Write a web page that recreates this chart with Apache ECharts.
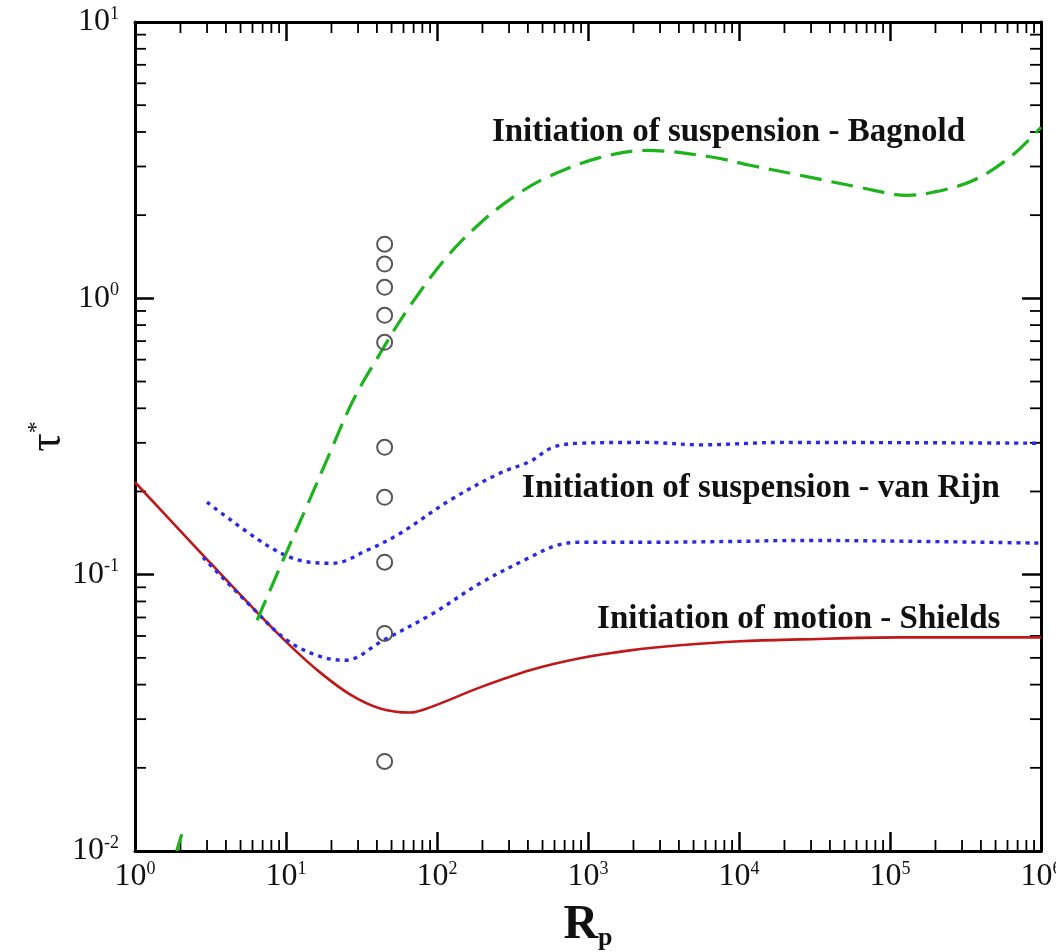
<!DOCTYPE html>
<html>
<head>
<meta charset="utf-8">
<script src="https://cdn.jsdelivr.net/npm/echarts@6/dist/echarts.min.js"></script>
<style>
  html, body { margin: 0; padding: 0; background: #fff; }
  #chart { width: 1056px; height: 952px; }
</style>
</head>
<body>
<div id="chart"></div>
<script>
// Axis ranges (log scales)
const X_MIN = 1, X_MAX = 1e6;
const Y_MIN = 0.01, Y_MAX = 10;

// Initiation of motion - Shields
const shieldsRp  = [1, 2.69, 6.53, 10.6, 16.8, 26.5, 42, 66.2, 89.9, 193, 413, 885, 1897, 4064, 10160, 25350, 116000, 1000000];
const shieldsTau = [0.216, 0.121, 0.0724, 0.0555, 0.0443, 0.0369, 0.0328, 0.0317, 0.0331, 0.0391, 0.0451, 0.0498, 0.0532, 0.0555, 0.0574, 0.0583, 0.0593, 0.0593];

// Initiation of suspension - van Rijn (upper and lower bounds)
const vanRijnUpperRp  = [3.0, 7.48, 12.4, 20.5, 34.4, 56.9, 122, 261, 413, 586, 885, 2460, 5520, 19550, 1000000];
const vanRijnUpperTau = [0.183, 0.1277, 0.1126, 0.110, 0.1225, 0.141, 0.186, 0.233, 0.257, 0.289, 0.299, 0.301, 0.295, 0.301, 0.299];
const vanRijnLowerRp  = [2.82, 5.78, 10.2, 16.8, 24.6, 43.9, 94.1, 193, 413, 623, 885, 2460, 10000, 25350, 1000000];
const vanRijnLowerTau = [0.1155, 0.0774, 0.0578, 0.0506, 0.0490, 0.0578, 0.0724, 0.0931, 0.1156, 0.1277, 0.131, 0.131, 0.132, 0.133, 0.130];

// Initiation of suspension - Bagnold
const bagnoldRp  = [6.43, 9.55, 13.8, 19.6, 27.8, 42, 63.3, 116, 193, 318, 535, 1148, 2460, 6730, 11830, 25350, 63300, 130000, 193000, 355000, 623000, 1000000];
const bagnoldTau = [0.0684, 0.1127, 0.178, 0.277, 0.427, 0.632, 0.905, 1.41, 1.87, 2.32, 2.74, 3.21, 3.43, 3.24, 3.03, 2.79, 2.52, 2.36, 2.42, 2.67, 3.24, 4.16];
const bagnoldLowRp  = [1.89, 2.04];
const bagnoldLowTau = [0.0100, 0.0115];

// Measured points
const pointsRp  = [45, 45, 45, 45, 45, 45, 45, 45, 45, 45];
const pointsTau = [1.57, 1.33, 1.096, 0.868, 0.693, 0.289, 0.1905, 0.111, 0.0613, 0.0211];

// Curve captions
const captionText = ['Initiation of suspension - Bagnold', 'Initiation of suspension - van Rijn', 'Initiation of motion - Shields'];
const captionRp   = [231, 366, 1148];
const captionTau  = [3.99, 0.205, 0.0689];

const zip = (a, b) => a.map((v, i) => [v, b[i]]);

const SERIF = "'Liberation Serif', 'Times New Roman', serif";
const INK = '#111';
const MINOR_LEN = 11;

// minor tick positions 2..9 within every decade
const minorX = [];
for (let k = 0; k < 6; k++) for (let m = 2; m <= 9; m++) minorX.push(m * Math.pow(10, k));
const minorY = [];
for (let k = -2; k < 1; k++) for (let m = 2; m <= 9; m++) minorY.push(+(m * Math.pow(10, k)).toPrecision(3));

const powRich = {
  b: { fontFamily: SERIF, fontSize: 32, color: INK, lineHeight: 34 },
  s: { fontFamily: SERIF, fontSize: 18, color: INK, verticalAlign: 'top', lineHeight: 18 }
};
const powLabel = v => '{b|10}{s|' + Math.round(Math.log10(v)) + '}';

const frameLine = { show: true, onZero: false, lineStyle: { color: '#000', width: 3 } };
const majorTick = { show: true, inside: true, length: 19, lineStyle: { color: '#000', width: 2.5 } };

function baseAxis(extra) {
  return Object.assign({
    type: 'log', logBase: 10,
    axisLine: frameLine, axisTick: majorTick,
    splitLine: { show: false }, minorTick: { show: false }
  }, extra);
}

const tickStyle = { stroke: '#000', lineWidth: 1.8 };

const chart = echarts.init(document.getElementById('chart'));
chart.setOption({
  animation: false,
  backgroundColor: '#fff',
  grid: { left: 135, right: 15, top: 22, bottom: 101, containLabel: false, outerBoundsMode: 'none' },
  xAxis: [
    baseAxis({
      min: X_MIN, max: X_MAX, position: 'bottom',
      axisLabel: { formatter: powLabel, rich: powRich, margin: 9 },
      name: '{r|R}{p|p}', nameLocation: 'middle', nameGap: 50,
      nameTextStyle: {
        rich: {
          r: { fontFamily: SERIF, fontWeight: 'bold', fontSize: 48, color: INK, lineHeight: 50 },
          p: { fontFamily: SERIF, fontWeight: 'bold', fontSize: 26, color: INK, verticalAlign: 'bottom', lineHeight: 26 }
        }
      }
    }),
    baseAxis({ min: X_MIN, max: X_MAX, position: 'top', axisLabel: { show: false } })
  ],
  yAxis: [
    baseAxis({
      min: Y_MIN, max: Y_MAX, position: 'left',
      axisLabel: { formatter: powLabel, rich: powRich, margin: 16 },
      name: '{t|τ}{s|*}', nameLocation: 'middle', nameGap: 64, nameMoveOverlap: false,
      nameTextStyle: {
        rich: {
          t: { fontFamily: SERIF, fontSize: 46, color: INK, lineHeight: 46 },
          s: { fontFamily: SERIF, fontSize: 24, color: INK, verticalAlign: 'top', lineHeight: 24 }
        }
      }
    }),
    baseAxis({ min: Y_MIN, max: Y_MAX, position: 'right', axisLabel: { show: false } })
  ],
  series: [
    {
      type: 'custom', name: 'x minor ticks', silent: true, clip: false,
      data: minorX.map(v => [v, Y_MIN]),
      renderItem: (params, api) => {
        const v = api.value(0);
        const b = api.coord([v, Y_MIN]);
        const t = api.coord([v, Y_MAX]);
        return { type: 'group', children: [
          { type: 'line', shape: { x1: b[0], y1: b[1], x2: b[0], y2: b[1] - MINOR_LEN }, style: tickStyle },
          { type: 'line', shape: { x1: t[0], y1: t[1], x2: t[0], y2: t[1] + MINOR_LEN }, style: tickStyle }
        ] };
      }
    },
    {
      type: 'custom', name: 'y minor ticks', silent: true, clip: false,
      data: minorY.map(v => [X_MIN, v]),
      renderItem: (params, api) => {
        const v = api.value(1);
        const l = api.coord([X_MIN, v]);
        const r = api.coord([X_MAX, v]);
        return { type: 'group', children: [
          { type: 'line', shape: { x1: l[0], y1: l[1], x2: l[0] + MINOR_LEN, y2: l[1] }, style: tickStyle },
          { type: 'line', shape: { x1: r[0], y1: r[1], x2: r[0] - MINOR_LEN, y2: r[1] }, style: tickStyle }
        ] };
      }
    },
    {
      type: 'line', name: 'Shields', data: zip(shieldsRp, shieldsTau),
      showSymbol: false, smooth: 0.35, clip: true,
      lineStyle: { color: '#c01818', width: 2.6 }
    },
    {
      type: 'line', name: 'van Rijn upper', data: zip(vanRijnUpperRp, vanRijnUpperTau),
      showSymbol: false, smooth: 0.35, clip: true,
      lineStyle: { color: '#2a2ae6', width: 3.4, type: [4, 5] }
    },
    {
      type: 'line', name: 'van Rijn lower', data: zip(vanRijnLowerRp, vanRijnLowerTau),
      showSymbol: false, smooth: 0.35, clip: true,
      lineStyle: { color: '#2a2ae6', width: 3.4, type: [4, 5] }
    },
    {
      type: 'line', name: 'Bagnold', data: zip(bagnoldRp, bagnoldTau),
      showSymbol: false, smooth: 0.35, clip: true,
      lineStyle: { color: '#1db31d', width: 3.2, type: [22, 10] }
    },
    {
      type: 'line', name: 'Bagnold low', data: zip(bagnoldLowRp, bagnoldLowTau),
      showSymbol: false, clip: true,
      lineStyle: { color: '#1db31d', width: 3.2 }
    },
    {
      type: 'scatter', name: 'measured', data: zip(pointsRp, pointsTau),
      symbol: 'circle', symbolSize: 15, z: 5,
      itemStyle: { color: 'rgba(255,255,255,0)', borderColor: '#555', borderWidth: 2, opacity: 1 }
    },
    {
      type: 'scatter', name: 'captions', silent: true, symbolSize: 0,
      data: captionText.map((t, i) => [captionRp[i], captionTau[i], t]),
      itemStyle: { opacity: 1 },
      label: {
        show: true, position: 'right', distance: 0, opacity: 1,
        formatter: p => p.data[2],
        fontFamily: SERIF, fontWeight: 'bold', fontSize: 33, color: INK
      }
    }
  ]
});
</script>
</body>
</html>
